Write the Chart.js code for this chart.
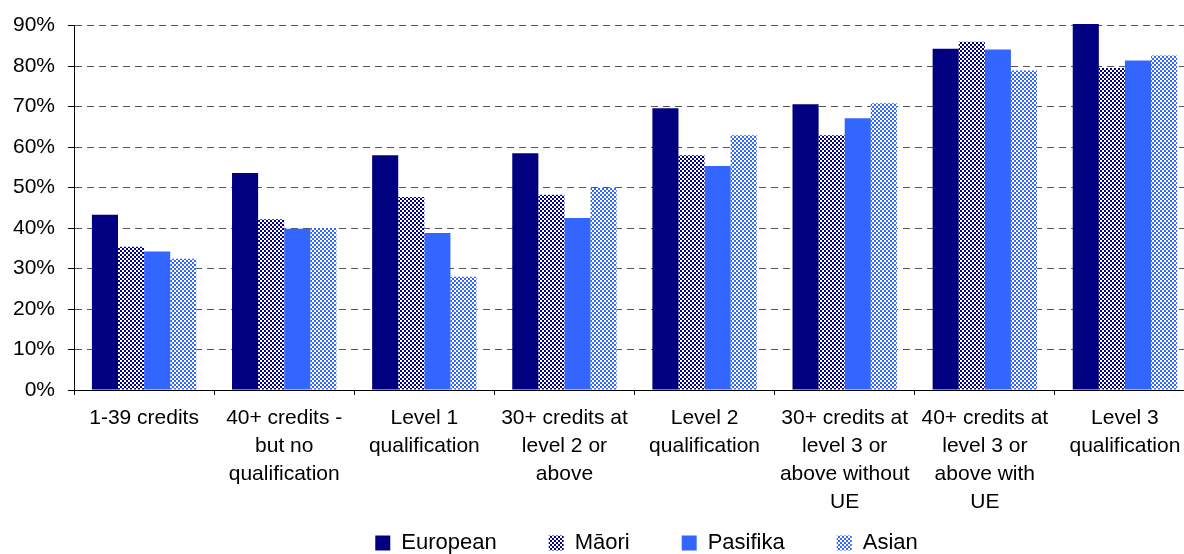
<!DOCTYPE html>
<html>
<head>
<meta charset="utf-8">
<script src="https://cdn.jsdelivr.net/npm/chart.js@4/dist/chart.umd.min.js"></script>
<style>
  html, body { margin: 0; padding: 0; background: #fff; overflow: hidden; }
  #wrap { width: 1184px; height: 554px; overflow: hidden; }
</style>
</head>
<body>
<div id="wrap"><canvas id="chart" width="1198" height="554"></canvas></div>
<script>
// ==========================
// DATA
// ==========================
var categories = [
  ['1-39 credits'],
  ['40+ credits -', 'but no', 'qualification'],
  ['Level 1', 'qualification'],
  ['30+ credits at', 'level 2 or', 'above'],
  ['Level 2', 'qualification'],
  ['30+ credits at', 'level 3 or', 'above without', 'UE'],
  ['40+ credits at', 'level 3 or', 'above with', 'UE'],
  ['Level 3', 'qualification']
];
var seriesNames = ['European', 'Māori', 'Pasifika', 'Asian'];
var european = [43.3, 53.6, 58.0, 58.5, 69.6, 70.6, 84.3, 90.4];
var maori    = [35.4, 42.2, 47.7, 48.2, 58.0, 62.9, 86.0, 79.5];
var pasifika = [34.2, 39.8, 38.8, 42.5, 55.3, 67.1, 84.1, 81.4];
var asian    = [32.4, 40.0, 28.0, 49.9, 62.9, 70.8, 78.9, 82.6];
var yTicks   = [0, 10, 20, 30, 40, 50, 60, 70, 80, 90];

// ==========================
// PATTERNS
// ==========================
function checker(color) {
  var c = document.createElement('canvas');
  c.width = 4; c.height = 4;
  var g = c.getContext('2d');
  g.fillStyle = color;
  g.fillRect(0, 0, 4, 4);
  g.fillStyle = '#ffffff';
  g.fillRect(0, 0, 2, 2);
  g.fillRect(2, 2, 2, 2);
  return g.createPattern(c, 'repeat');
}

var NAVY = '#000080';
var BLUE = '#3366ff';
var FONT = "'Liberation Sans', Arial, sans-serif";

// nudge legend: wide gaps between items but placed close under the axis labels
var legendNudge = {
  id: 'legendNudge',
  afterLayout: function(chart) {
    var lg = chart.legend;
    if (!lg) return;
    lg.top = 480;
    lg.left += 12;
    lg.right += 12;
  }
};

var allValues = [european, maori, pasifika, asian];
var fills = [NAVY, checker(NAVY), BLUE, checker(BLUE)];

var datasets = seriesNames.map(function(name, i) {
  return {
    label: name,
    data: allValues[i],
    backgroundColor: fills[i],
    borderWidth: 0,
    categoryPercentage: 0.745,
    barPercentage: 1.0,
    clip: false
  };
});

new Chart(document.getElementById('chart'), {
  type: 'bar',
  data: { labels: categories, datasets: datasets },
  plugins: [legendNudge],
  options: {
    responsive: false,
    animation: false,
    layout: { padding: { left: 0, right: 3, top: 17, bottom: 0 } },
    plugins: {
      tooltip: { enabled: false },
      legend: {
        position: 'bottom',
        fullSize: false,
        maxHeight: 29,
        labels: {
          color: '#000',
          font: { family: FONT, size: 22 },
          boxWidth: 15,
          boxHeight: 15,
          padding: 52
        }
      }
    },
    scales: {
      x: {
        grid: {
          offset: true,
          drawOnChartArea: false,
          drawTicks: true,
          tickLength: 5,
          color: '#000'
        },
        border: { color: '#000', width: 1 },
        ticks: {
          color: '#000',
          font: { family: FONT, size: 21, lineHeight: 1.333 },
          maxRotation: 0,
          autoSkip: false,
          padding: 9
        }
      },
      y: {
        min: 0,
        max: 90,
        afterBuildTicks: function(axis) {
          axis.ticks = yTicks.map(function(v) { return { value: v }; });
        },
        grid: {
          color: '#555',
          lineWidth: 1,
          tickColor: '#000',
          tickLength: 6,
          tickBorderDash: []
        },
        border: { color: '#000', width: 1, dash: [7, 5] },
        ticks: {
          color: '#000',
          font: { family: FONT, size: 21 },
          padding: 13,
          callback: function(v) { return v + '%'; }
        }
      }
    }
  }
});
</script>
</body>
</html>
